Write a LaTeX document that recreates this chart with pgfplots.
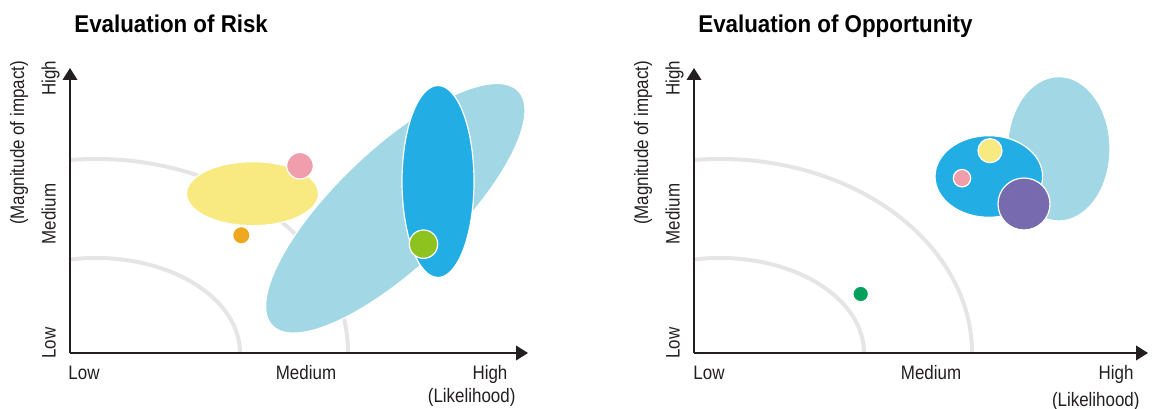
\documentclass[border=0pt]{standalone}
\usepackage{pgfplots}
\pgfplotsset{compat=1.18}
\usetikzlibrary{arrows.meta}
\usepackage{fontspec}
\setmainfont{Liberation Sans}[FakeStretch=0.87]
\newfontfamily\headfont{Liberation Sans}[FakeStretch=0.92]

\definecolor{txt}{HTML}{231F20}
\definecolor{arcgrey}{HTML}{E5E5E5}
\definecolor{skyblue}{HTML}{A2D8E5}
\definecolor{deepblue}{HTML}{22AEE5}
\definecolor{sun}{HTML}{F8E981}
\definecolor{rose}{HTML}{F19EAC}
\definecolor{amber}{HTML}{EDA81F}
\definecolor{lime}{HTML}{8EC21F}
\definecolor{violet}{HTML}{786AAE}
\definecolor{jade}{HTML}{06A05E}

% units: 1 data unit = 1 px of the reference (0.75pt)
\pgfplotsset{
  evalmap/.style={
    x=0.75pt, y=0.75pt, anchor=south west,
    xmin=0, ymin=0, ymax=285,
    axis lines=left, axis on top,
    axis line style={line width=1.3pt, txt, -{Triangle[length=9pt,width=11pt]}},
    enlargelimits=false, clip marker paths=true,
    point meta min=0, point meta max=1,
    major tick length=0pt, tick style={draw=none},
    tick label style={text=txt, font=\fontsize{14.6}{17}\selectfont},
    yticklabel style={xshift=-10.8pt, rotate=90, anchor=base},
    xticklabel style={anchor=base, yshift=-20.25pt},
    ytick={10,139,275}, yticklabels={Low,Medium,High},
    ylabel={(Magnitude of impact)},
    xlabel={(Likelihood)},
    every axis title/.style={at={(axis description cs:0.009,1.125)}, anchor=base west,
      inner sep=0pt, text=black, font=\headfont\bfseries\fontsize{18.2}{22}\selectfont},
  },
  blob/.style={
    only marks, scatter, mark=*, mark size=0.75pt,
    scatter/use mapped color={draw=white, fill=#1, line width=0.9pt},
    visualization depends on={\thisrow{rx} \as \erx},
    visualization depends on={\thisrow{ry} \as \ery},
    visualization depends on={\thisrow{rot} \as \erot},
    scatter/@pre marker code/.append code={%
      \pgftransformrotate{\erot}\pgftransformxscale{\erx}\pgftransformyscale{\ery}},
  },
  ring/.style={
    only marks, scatter, mark=o, mark size=0.75pt,
    scatter/use mapped color={draw=arcgrey, line width=3pt},
    visualization depends on={\thisrow{rx} \as \erx},
    visualization depends on={\thisrow{ry} \as \ery},
    scatter/@pre marker code/.append code={%
      \pgftransformxscale{\erx}\pgftransformyscale{\ery}},
  },
}

\pgfplotstableread{
x y rx ry
26 0 252 194
26 0 144 95
}\arcs

\begin{document}
\begin{tikzpicture}
\path[use as bounding box] (0,0) rectangle (864.75pt,306.75pt);

% ---------------- Risk ----------------
\begin{axis}[evalmap, at={(52.5pt,42pt)}, xmax=458,
  title={Evaluation of Risk},
  xtick={14,236,420}, xticklabels={Low,Medium,High},
  every axis x label/.style={at={(axis description cs:0.877,-0.175)}, anchor=base,
    text=txt, font=\fontsize{14.6}{17}\selectfont},
  every axis y label/.style={at={(axis description cs:-0.1,0.737)}, rotate=90, anchor=base,
    text=txt, font=\fontsize{14.6}{17}\selectfont},
]
\addplot[ring] table {\arcs};
\addplot[blob=skyblue] table {
x y rx ry rot
325.3 144.7 170 59 43.6
};
\addplot[blob=sun] table {
x y rx ry rot
182.5 159.3 66 32 0
};
\addplot[blob=rose] table {
x y rx ry rot
230 187.2 13.3 13.3 0
};
\addplot[blob=amber] table {
x y rx ry rot
171.3 117.7 8.7 8.7 0
};
\addplot[blob=deepblue] table {
x y rx ry rot
368 171.5 36 96 0
};
\addplot[blob=lime] table {
x y rx ry rot
353.5 108.8 14.2 14.2 0
};
\end{axis}

% ---------------- Opportunity ----------------
\begin{axis}[evalmap, at={(520.5pt,42pt)}, xmax=454,
  title={Evaluation of Opportunity},
  xtick={15,237,422}, xticklabels={Low,Medium,High},
  every axis x label/.style={at={(axis description cs:0.885,-0.186)}, anchor=base,
    text=txt, font=\fontsize{14.6}{17}\selectfont},
  every axis y label/.style={at={(axis description cs:-0.101,0.737)}, rotate=90, anchor=base,
    text=txt, font=\fontsize{14.6}{17}\selectfont},
]
\addplot[ring] table {\arcs};
\addplot[blob=skyblue] table {
x y rx ry rot
364.8 204.2 51.2 72.2 0
};
\addplot[blob=deepblue] table {
x y rx ry rot
294.8 176.5 53.8 40.8 0
};
\addplot[blob=sun] table {
x y rx ry rot
296 202.3 12 12 0
};
\addplot[blob=rose] table {
x y rx ry rot
268 174.8 8.7 8.7 0
};
\addplot[blob=violet] table {
x y rx ry rot
330 149 26 26 0
};
\addplot[blob=jade] table {
x y rx ry rot
166.7 59 7.8 7.8 0
};
\end{axis}
\end{tikzpicture}
\end{document}
